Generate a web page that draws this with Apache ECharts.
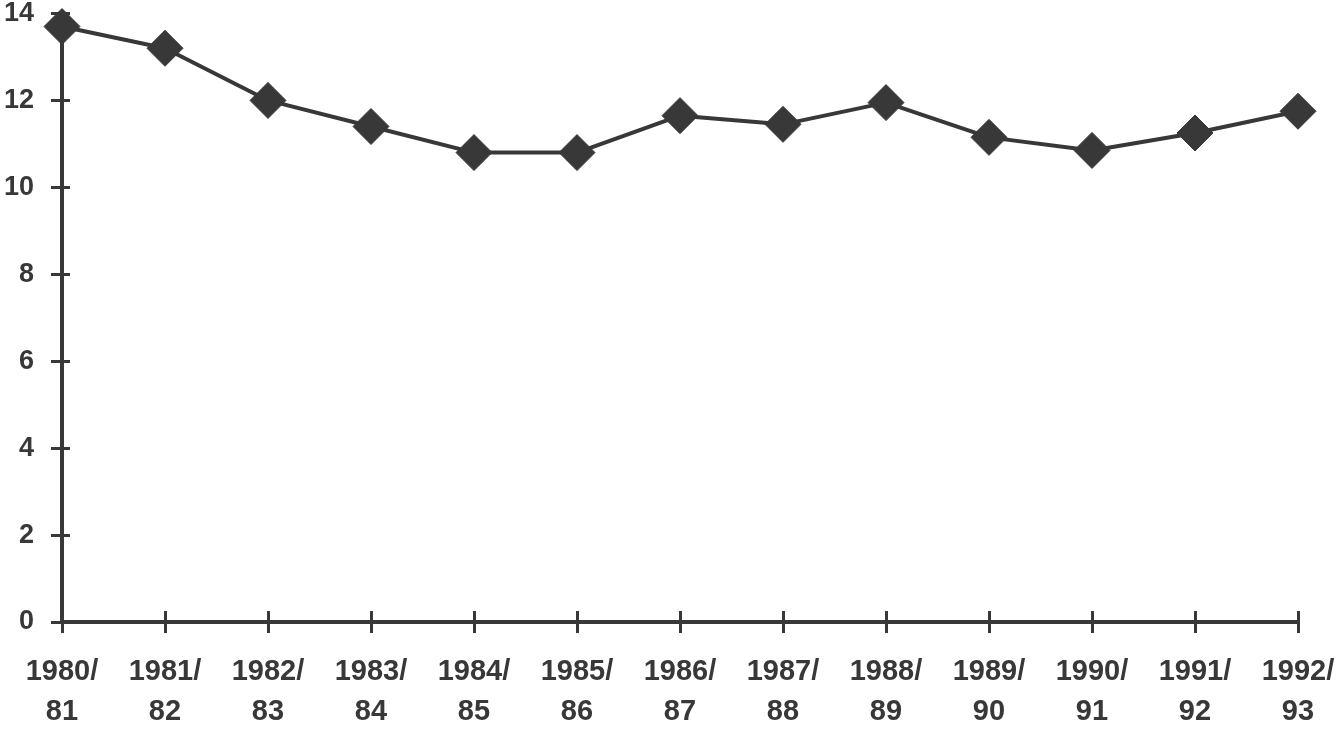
<!DOCTYPE html>
<html>
<head>
<meta charset="utf-8">
<script src="https://cdn.jsdelivr.net/npm/echarts@6/dist/echarts.min.js"></script>
<style>
  html, body { margin: 0; padding: 0; background: #fff; }
  #chart { width: 1341px; height: 732px; }
</style>
</head>
<body>
<div id="chart"></div>
<script>
var years = [
  "1980/\n81", "1981/\n82", "1982/\n83", "1983/\n84", "1984/\n85",
  "1985/\n86", "1986/\n87", "1987/\n88", "1988/\n89", "1989/\n90",
  "1990/\n91", "1991/\n92", "1992/\n93"
];
var values = [13.7, 13.2, 12.0, 11.4, 10.8, 10.8, 11.65, 11.45, 11.95, 11.15, 10.85, 11.25, 11.75];
var yMin = 0;
var yMax = 14;
var yStep = 2;

var ink = "#383838";
var chart = echarts.init(document.getElementById("chart"));

chart.setOption({
  animation: false,
  grid: { left: 62, right: 43, top: 13, bottom: 105 },
  xAxis: [
    {
      type: "category",
      data: years,
      boundaryGap: false,
      axisLine: { lineStyle: { color: ink, width: 4 } },
      axisTick: { length: 11, lineStyle: { color: ink, width: 3 } },
      axisLabel: {
        color: ink,
        fontFamily: "Liberation Sans, Arial, sans-serif",
        fontWeight: "bold",
        fontSize: 29,
        lineHeight: 40,
        margin: 30
      },
      splitLine: { show: false }
    },
    {
      // second axis only draws the upper half of the crossing ticks
      type: "category",
      data: years,
      position: "bottom",
      boundaryGap: false,
      axisLine: { show: false },
      axisTick: { inside: true, length: 11, lineStyle: { color: ink, width: 3 } },
      axisLabel: { show: false },
      splitLine: { show: false }
    }
  ],
  yAxis: [
    {
      type: "value",
      min: yMin,
      max: yMax,
      interval: yStep,
      axisLine: { show: true, lineStyle: { color: ink, width: 4 } },
      axisTick: { show: true, length: 11, lineStyle: { color: ink, width: 3 } },
      axisLabel: {
        color: ink,
        fontFamily: "Liberation Sans, Arial, sans-serif",
        fontWeight: "bold",
        fontSize: 27,
        margin: 28
      },
      splitLine: { show: false }
    },
    {
      type: "value",
      min: yMin,
      max: yMax,
      interval: yStep,
      position: "left",
      axisLine: { show: false },
      axisTick: { show: true, inside: true, length: 8, lineStyle: { color: ink, width: 3 } },
      axisLabel: { show: false },
      splitLine: { show: false }
    }
  ],
  series: [
    {
      type: "line",
      data: values,
      xAxisIndex: 0,
      yAxisIndex: 0,
      symbol: "diamond",
      symbolSize: [36, 36],
      lineStyle: { color: ink, width: 4 },
      itemStyle: { color: ink, borderColor: ink, borderWidth: 1 },
      z: 5
    }
  ]
});
</script>
</body>
</html>
